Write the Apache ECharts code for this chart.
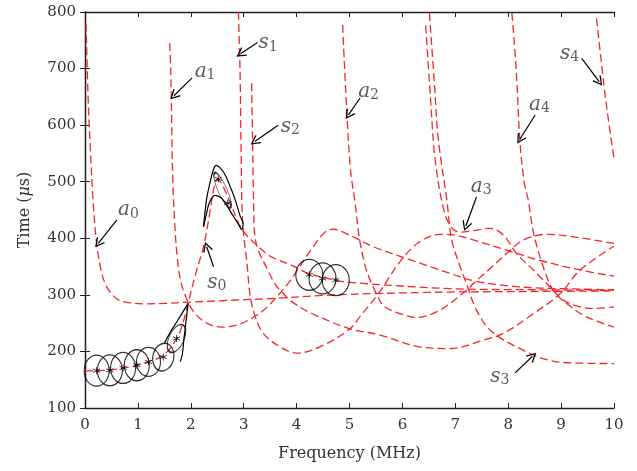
<!DOCTYPE html>
<html>
<head>
<meta charset="utf-8">
<script src="https://cdn.jsdelivr.net/npm/echarts@6/dist/echarts.min.js"></script>
<style>
  html, body { margin: 0; padding: 0; background: #fff; }
  #chart { width: 637px; height: 471px; }
</style>
</head>
<body>
<div id="chart"></div>
<script>
// dispersion curves: [frequency MHz, time us]
const a0 = [[0.02,780],[0.06,645],[0.1,560],[0.15,470],[0.22,391],[0.3,345],[0.38,320],[0.5,302],[0.63,291],[0.85,286],[1.13,284],[1.5,285],[1.95,287],[2.65,290],[3.65,294],[4.5,299],[5.58,302.5],[6.9,305],[8.5,306],[10,307]];
const s0 = [[0,165.5],[0.22,166],[0.47,167],[0.72,170.5],[0.98,175.5],[1.2,182],[1.48,193],[1.73,222],[1.85,250],[1.95,286],[2.1,340],[2.24,385],[2.35,440],[2.45,495],[2.5,503],[2.58,497],[2.75,462],[2.96,417],[3.28,385],[3.53,367],[3.91,352],[4.22,338],[4.73,326],[5.01,322],[6.9,311],[8.5,309],[10,308]];
const a1 = [[1.6,745],[1.62,700],[1.64,600],[1.66,500],[1.7,420],[1.75,360],[1.82,320],[1.95,287],[2.08,267],[2.3,250],[2.58,243],[2.8,245],[3.02,252],[3.34,270],[3.65,299],[3.91,329],[4.29,382],[4.54,411],[4.7,416],[4.9,410],[5.17,398],[5.45,385],[6.21,360],[6.9,338],[7.34,325],[8.0,316],[8.6,312],[10,309]];
const s1 = [[2.9,800],[2.93,700],[2.95,560],[2.97,450],[3.0,405],[3.06,358],[3.12,300],[3.21,264],[3.37,232],[3.69,208],[4.0,197],[4.44,208],[5.01,240],[5.2,262],[5.55,302.5],[5.95,358],[6.3,392],[6.71,407],[6.96,406],[7.34,397],[7.97,379],[8.6,361],[9.36,344],[10,333]];
const s2 = [[3.15,674],[3.17,560],[3.19,450],[3.21,405],[3.28,378],[3.45,345],[3.6,318],[3.72,305],[3.91,288],[4.29,267],[5.01,240],[5.58,229],[6.27,209],[6.9,205],[7.53,220],[7.91,232],[8.48,267],[8.98,302],[9.36,344],[10,386]];
const a2 = [[4.87,777],[4.95,621],[5.02,520],[5.1,467],[5.19,398],[5.3,350],[5.39,326],[5.51,302],[5.65,280],[5.95,267],[6.27,260],[6.71,273],[7.21,308],[7.34,320],[7.7,350],[7.97,373],[8.29,397],[8.73,407],[9.23,402.6],[10,391]];
const a3 = [[6.44,776],[6.53,650],[6.62,538],[6.8,444],[6.96,416],[7.1,411],[7.3,413],[7.66,417.5],[7.91,405.7],[8.16,373],[8.54,338],[8.85,308],[9.04,290.6],[9.36,278.8],[9.61,276],[10,278.8]];
const s3 = [[6.51,798],[6.6,680],[6.68,574],[6.84,468],[6.93,398],[7.09,350],[7.21,320],[7.4,273],[7.66,237.5],[8.16,208],[8.79,184],[9.5,179],[10,178.6]];
const a4 = [[8.07,798],[8.15,700],[8.22,574],[8.3,500],[8.38,467],[8.48,409],[8.66,350],[8.85,308],[9.1,285],[9.48,261],[10,243]];
const s4 = [[9.67,789],[9.75,720],[9.85,640],[10,541]];

// measured arrival points (stars) and the outlines around them
const lowPoints = [[0.22,166],[0.47,166.5],[0.72,170.8],[0.98,175.6],[1.2,181.5],[1.48,190],[1.73,222.8]];
const midPoints = [[4.24,335.4],[4.49,329],[4.74,326]];
const peakPoints = [[2.52,505],[2.7,462]];
const peakOuter = [[2.24,420],[2.3,470],[2.36,497],[2.43,522],[2.48,529],[2.56,524],[2.65,512],[2.75,490],[2.84,468],[2.93,440],[2.99,425],[2.96,414.5]];
const peakInner = [[2.24,420],[2.3,445],[2.36,465],[2.46,476],[2.58,471],[2.68,458],[2.77,444],[2.88,428],[2.96,414.5]];
const tailOutline = [[1.5,214],[1.6,232],[1.76,256],[1.95,285],[1.92,261],[1.87,222],[1.84,195],[1.8,182]];

// mode labels: [text x, text y, letter, index, arrow start x, y, arrow tip x, y]
const modeLabels = [
  [0.82,450,'a','0',0.6,432,0.25,391],
  [2.27,695,'a','1',2.02,683,1.68,652],
  [5.36,659,'a','2',5.2,648,4.98,618],
  [7.49,491,'a','3',7.4,473,7.2,421.6],
  [8.59,636,'a','4',8.51,618,8.22,575],
  [2.49,322,'s','0',2.43,349.6,2.3,385],
  [3.46,745,'s','1',3.26,746,2.94,726],
  [3.88,597,'s','2',3.65,600,3.21,571],
  [7.84,156,'s','3',8.13,162,8.46,191.5],
  [9.16,727,'s','4',9.39,718,9.72,677]
];

const chart = echarts.init(document.getElementById('chart'));
const serif = 'DejaVu Serif';
const red = '#f2262b';

const curve = (data) => ({
  type: 'line', data, showSymbol: false, smooth: 0.35, silent: true,
  lineStyle: { color: red, width: 1.3, type: [8, 4] }, z: 2
});
const outline = (data) => ({
  type: 'line', data, showSymbol: false, smooth: 0.4, silent: true,
  lineStyle: { color: '#000', width: 1.2 }, z: 3
});

// ellipse sizes in px [w, h, rotate]
const lowSizes = [[25,31,0],[25,31,0],[25,31,0],[25,31,0],[24,29,0],[21,28,-12],[15,30,-25]];
const midSizes = [[27,31,0],[27,31,0],[27,31,0]];

const star = 'path://M0,-4L0,4M-3.5,-2L3.5,2M-3.5,2L3.5,-2';
const vArrow = 'path://M5,0L10,9L9,10L5,2.5L1,10L0,9Z';

const option = {
  animation: false,
  grid: { left: 85, right: 23, top: 12, bottom: 63 },
  xAxis: [{
    type: 'value', min: 0, max: 10, interval: 1,
    name: 'Frequency (MHz)', nameLocation: 'middle', nameGap: 38,
    nameTextStyle: { fontFamily: serif, fontSize: 16, color: '#333' },
    axisLine: { lineStyle: { color: '#222', width: 1.3 } },
    axisTick: { inside: true, length: 5, lineStyle: { color: '#222' } },
    axisLabel: { fontFamily: serif, fontSize: 15, color: '#333', margin: 10 },
    splitLine: { show: false }
  }, {
    type: 'value', min: 0, max: 10, interval: 1, position: 'top',
    axisLine: { lineStyle: { color: '#222', width: 1.3 } },
    axisTick: { inside: true, length: 5, lineStyle: { color: '#222' } },
    axisLabel: { show: false }, splitLine: { show: false }
  }],
  yAxis: [{
    type: 'value', min: 100, max: 800, interval: 100,
    name: 'Time ({i|μ}s)', nameLocation: 'middle', nameGap: 52,
    nameTextStyle: { fontFamily: serif, fontSize: 16, color: '#333',
      rich: { i: { fontFamily: serif, fontSize: 16, fontStyle: 'italic', color: '#333' } } },
    axisLine: { lineStyle: { color: '#222', width: 1.3 } },
    axisTick: { inside: true, length: 5, lineStyle: { color: '#222' } },
    axisLabel: { fontFamily: serif, fontSize: 15, color: '#333', margin: 9 },
    splitLine: { show: false }
  }, {
    type: 'value', min: 100, max: 800, interval: 100, position: 'right',
    axisLine: { lineStyle: { color: '#222', width: 1.3 } },
    axisTick: { inside: true, length: 5, lineStyle: { color: '#222' } },
    axisLabel: { show: false }, splitLine: { show: false }
  }],
  series: [
    curve(a0), curve(s0), curve(a1), curve(s1), curve(s2),
    curve(a2), curve(a3), curve(s3), curve(a4), curve(s4),
    outline(peakOuter), outline(peakInner), outline(tailOutline),
    {
      type: 'scatter', silent: true, z: 4,
      data: lowPoints.map((p, i) => ({ value: p, symbolSize: lowSizes[i].slice(0, 2), symbolRotate: lowSizes[i][2] }))
        .concat(midPoints.map((p, i) => ({ value: p, symbolSize: midSizes[i].slice(0, 2) })))
        .concat([{ value: [2.6, 485], symbolSize: [9, 38], symbolRotate: 24 }]),
      symbol: 'circle',
      itemStyle: { color: 'rgba(0,0,0,0)', borderColor: '#000', borderWidth: 1.2 }
    },
    {
      type: 'scatter', silent: true, z: 5, symbol: star, symbolSize: 7,
      data: lowPoints.concat(midPoints, peakPoints),
      itemStyle: { color: 'rgba(0,0,0,0)', borderColor: '#000', borderWidth: 1 }
    },
    {
      type: 'scatter', silent: true, z: 6, symbolSize: 1,
      itemStyle: { color: 'rgba(0,0,0,0)' },
      data: modeLabels.map(l => [l[0], l[1], l[2], l[3]]),
      label: {
        show: true, position: 'inside',
        formatter: p => '{i|' + p.value[2] + '}{s|' + p.value[3] + '}',
        rich: {
          i: { fontFamily: serif, fontStyle: 'italic', fontSize: 20, color: '#333', lineHeight: 22 },
          s: { fontFamily: serif, fontSize: 14, color: '#333', lineHeight: 22, padding: [8, 0, 0, 0] }
        }
      },
      markLine: {
        silent: true, symbol: ['none', vArrow], symbolSize: [10, 10],
        lineStyle: { color: '#000', width: 1.2, type: 'solid' },
        label: { show: false },
        data: modeLabels.map(l => [{ coord: [l[4], l[5]] }, { coord: [l[6], l[7]] }])
      }
    }
  ]
};
chart.setOption(option);
</script>
</body>
</html>
